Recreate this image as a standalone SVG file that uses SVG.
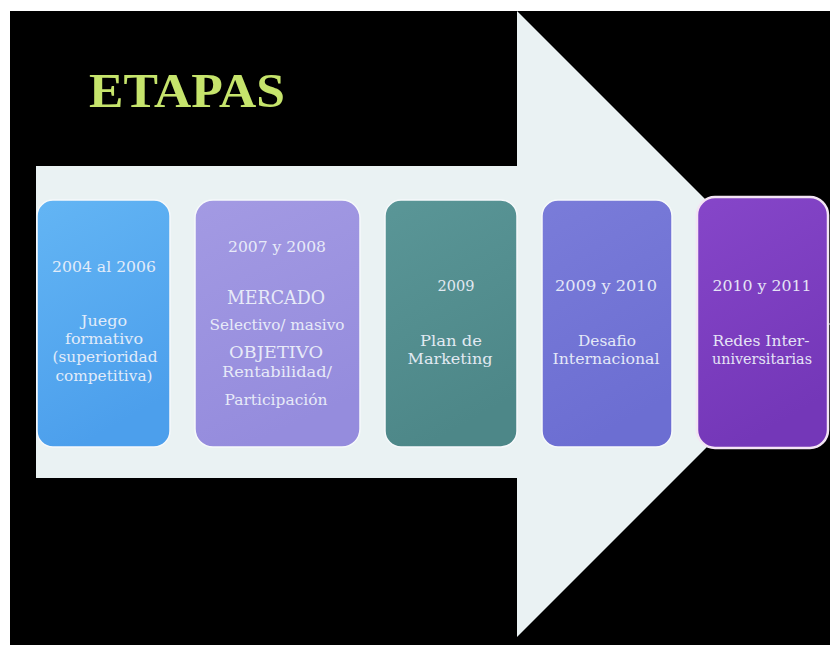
<svg xmlns="http://www.w3.org/2000/svg" width="830" height="645" viewBox="0 0 830 645">
<defs>
<style>
.t{font-family:"DejaVu Serif","Liberation Serif",serif;font-size:14.5px;fill:#eef2fb;text-anchor:middle;opacity:0.92}
.b{font-size:18px}
.c{font-size:16px}
.title{font-family:"Liberation Serif","Times New Roman",serif;font-size:48px;font-weight:bold;fill:#c6e46c}
.box{stroke:#f6f9fb;stroke-width:1.5}
</style>
<linearGradient id="g1" x1="0" y1="0" x2="0.3" y2="1"><stop offset="0" stop-color="#63b5f4"/><stop offset="1" stop-color="#4c9fec"/></linearGradient>
<linearGradient id="g2" x1="0" y1="0" x2="0.3" y2="1"><stop offset="0" stop-color="#a39ae3"/><stop offset="1" stop-color="#958cdd"/></linearGradient>
<linearGradient id="g3" x1="0" y1="0" x2="0.3" y2="1"><stop offset="0" stop-color="#5a9697"/><stop offset="1" stop-color="#4d8788"/></linearGradient>
<linearGradient id="g4" x1="0" y1="0" x2="0.3" y2="1"><stop offset="0" stop-color="#7a7cd9"/><stop offset="1" stop-color="#6c6ed2"/></linearGradient>
<linearGradient id="g5" x1="0" y1="0" x2="0.3" y2="1"><stop offset="0" stop-color="#8646c9"/><stop offset="1" stop-color="#7437b8"/></linearGradient>
</defs>
<rect x="0" y="0" width="830" height="645" fill="#ffffff"/>
<rect x="10" y="11" width="820" height="634" fill="#000000"/>
<g id="arrow">
<polygon points="36,166 517,166 517,11 830,324 517,637 517,478 36,478" fill="#eaf2f3"/>
</g>
<g id="title">
<text class="title" x="89" y="107" textLength="196" lengthAdjust="spacingAndGlyphs">ETAPAS</text>
</g>
<g id="node1">
<rect class="box" x="37" y="200" width="133" height="247" rx="16" fill="url(#g1)"/>
<text class="t" x="104" y="272" textLength="104" lengthAdjust="spacingAndGlyphs">2004 al 2006</text>
<text class="t" x="104" y="326" textLength="46" lengthAdjust="spacingAndGlyphs">Juego</text>
<text class="t" x="104" y="344" textLength="78" lengthAdjust="spacingAndGlyphs">formativo</text>
<text class="t" x="105" y="362" textLength="105" lengthAdjust="spacingAndGlyphs">(superioridad</text>
<text class="t" x="104" y="381" textLength="97" lengthAdjust="spacingAndGlyphs">competitiva)</text>
</g>
<g id="node2">
<rect class="box" x="195" y="200" width="165" height="247" rx="18" fill="url(#g2)"/>
<text class="t" x="277" y="252" textLength="98" lengthAdjust="spacingAndGlyphs">2007 y 2008</text>
<text class="t b" x="276" y="304" textLength="98" lengthAdjust="spacingAndGlyphs">MERCADO</text>
<text class="t" x="277" y="330" textLength="135" lengthAdjust="spacingAndGlyphs">Selectivo/ masivo</text>
<text class="t c" x="276" y="358" textLength="94" lengthAdjust="spacingAndGlyphs">OBJETIVO</text>
<text class="t" x="277" y="377" textLength="110" lengthAdjust="spacingAndGlyphs">Rentabilidad/</text>
<text class="t" x="276" y="405" textLength="103" lengthAdjust="spacingAndGlyphs">Participación</text>
</g>
<g id="node3">
<rect class="box" x="385" y="200" width="132" height="247" rx="16" fill="url(#g3)"/>
<text class="t" x="456" y="291">2009</text>
<text class="t" x="451" y="346" textLength="62" lengthAdjust="spacingAndGlyphs">Plan de</text>
<text class="t" x="450" y="364" textLength="85" lengthAdjust="spacingAndGlyphs">Marketing</text>
</g>
<g id="node4">
<rect class="box" x="542" y="200" width="130" height="247" rx="16" fill="url(#g4)"/>
<text class="t" x="606" y="291" textLength="102" lengthAdjust="spacingAndGlyphs">2009 y 2010</text>
<text class="t" x="607" y="346" textLength="58" lengthAdjust="spacingAndGlyphs">Desafio</text>
<text class="t" x="606" y="364" textLength="107" lengthAdjust="spacingAndGlyphs">Internacional</text>
</g>
<g id="node5">
<rect x="697" y="197" width="131" height="251" rx="18" fill="url(#g5)" stroke="#f3e4f4" stroke-width="2.5"/>
<text class="t" x="762" y="291" textLength="99" lengthAdjust="spacingAndGlyphs">2010 y 2011</text>
<text class="t" x="761" y="346" textLength="97" lengthAdjust="spacingAndGlyphs">Redes Inter-</text>
<text class="t" x="762" y="364" textLength="100" lengthAdjust="spacingAndGlyphs">universitarias</text>
</g>
</svg>
